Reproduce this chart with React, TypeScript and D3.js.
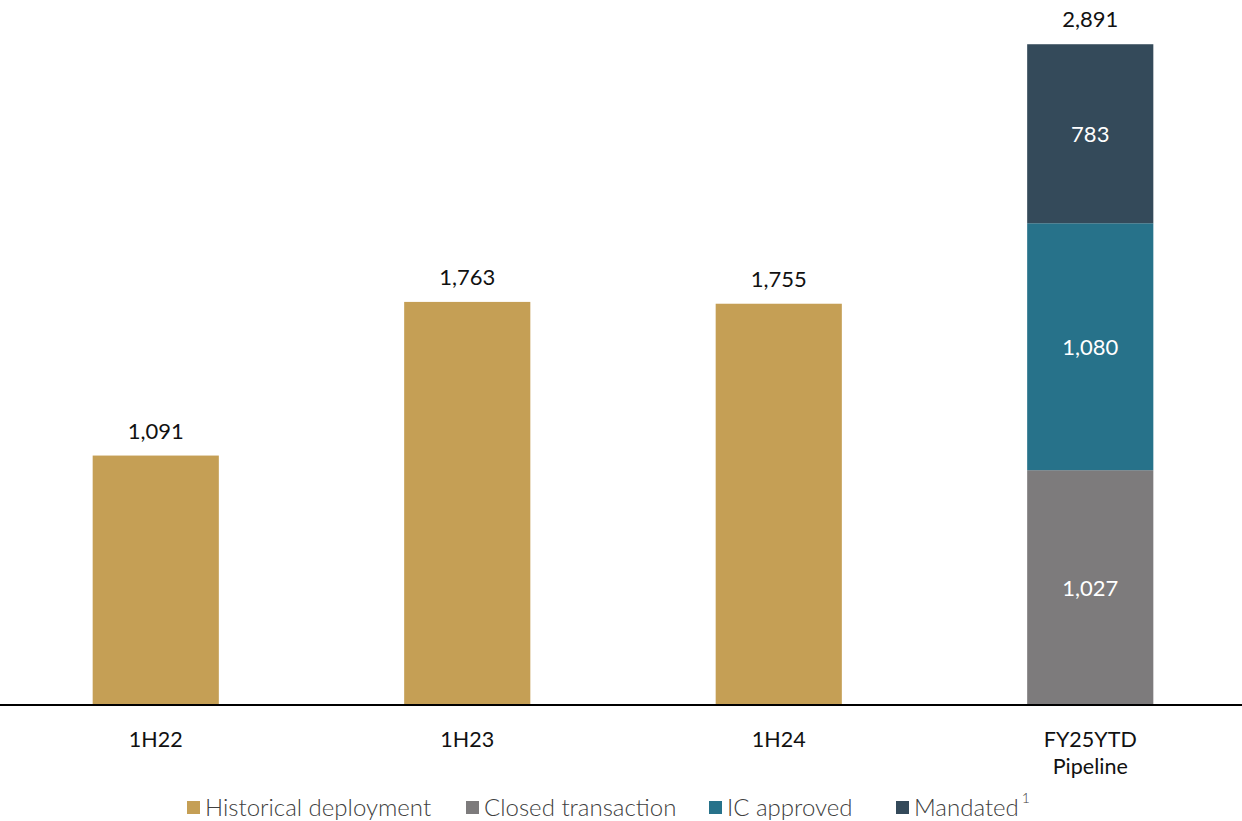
import React from "react";
import * as d3 from "d3";

const categories = ["1H22", "1H23", "1H24", "FY25YTD"];
const categoryLines = [["1H22"], ["1H23"], ["1H24"], ["FY25YTD", "Pipeline"]];
const seriesNames = ["Historical deployment", "Closed transaction", "IC approved", "Mandated"];
const historical = [1091, 1763, 1755, 0];
const closed = [0, 0, 0, 1027];
const icApproved = [0, 0, 0, 1080];
const mandated = [0, 0, 0, 783];
const totals = [1091, 1763, 1755, 2891];
const colors = ["#C59F55", "#7D7B7C", "#27728A", "#344A5A"];

const W = 1242;
const H = 821;
const baseY = 705;
const topY = 44;

export default function App() {
  const x = d3
    .scaleBand<string>()
    .domain(categories)
    .range([0, 1246])
    .paddingInner(0.595)
    .paddingOuter(0.2975);
  const y = d3.scaleLinear().domain([0, 2891]).range([baseY, topY]);

  const rows = categories.map((c, i) => ({
    cat: c,
    s0: historical[i],
    s1: closed[i],
    s2: icApproved[i],
    s3: mandated[i],
  }));
  const stack = d3.stack<any>().keys(["s0", "s1", "s2", "s3"]);
  const layers = stack(rows);
  const fmt = d3.format(",");
  const font = "Lato, 'Open Sans', sans-serif";

  const legendX = [187, 466, 709, 896];

  return (
    <svg width={W} height={H} style={{ position: "absolute", left: 0, top: 0, fontFamily: font }}>
      {layers.map((layer, li) =>
        layer.map((d, i) => {
          const h = y(d[0]) - y(d[1]);
          if (h <= 0) return null;
          const cat = categories[i];
          const isStackedBar = cat === "FY25YTD";
          return (
            <g key={`${li}-${i}`}>
              <rect x={x(cat)} y={y(d[1])} width={x.bandwidth()} height={h} fill={colors[li]} />
              {isStackedBar && (
                <text
                  x={(x(cat) as number) + x.bandwidth() / 2}
                  y={(y(d[0]) + y(d[1])) / 2 + 8}
                  textAnchor="middle"
                  fontSize={22}
                  fill="#ffffff"
                >
                  {fmt(d[1] - d[0])}
                </text>
              )}
            </g>
          );
        })
      )}
      {categories.map((c, i) => (
        <text
          key={`t-${c}`}
          x={(x(c) as number) + x.bandwidth() / 2}
          y={y(totals[i]) - 17}
          textAnchor="middle"
          fontSize={22}
          fill="#111"
        >
          {fmt(totals[i])}
        </text>
      ))}
      <line x1={0} x2={W} y1={baseY} y2={baseY} stroke="#000" strokeWidth={2} />
      {categories.map((c, i) => (
        <text
          key={`x-${c}`}
          x={(x(c) as number) + x.bandwidth() / 2}
          textAnchor="middle"
          fontSize={21.5}
          fill="#111"
        >
          {categoryLines[i].map((ln, k) => (
            <tspan key={k} x={(x(c) as number) + x.bandwidth() / 2} y={747 + k * 27}>
              {ln}
            </tspan>
          ))}
        </text>
      ))}
      {seriesNames.map((s, i) => (
        <g key={`lg-${s}`}>
          <rect x={legendX[i]} y={801} width={13} height={13} fill={colors[i]} />
          <text x={legendX[i] + 18} y={816} fontSize={24} fontWeight={300} fill="#404040">
            {s}
            {i === seriesNames.length - 1 && (
              <tspan dx={3} dy={-13} fontSize={14}>
                1
              </tspan>
            )}
          </text>
        </g>
      ))}
    </svg>
  );
}
